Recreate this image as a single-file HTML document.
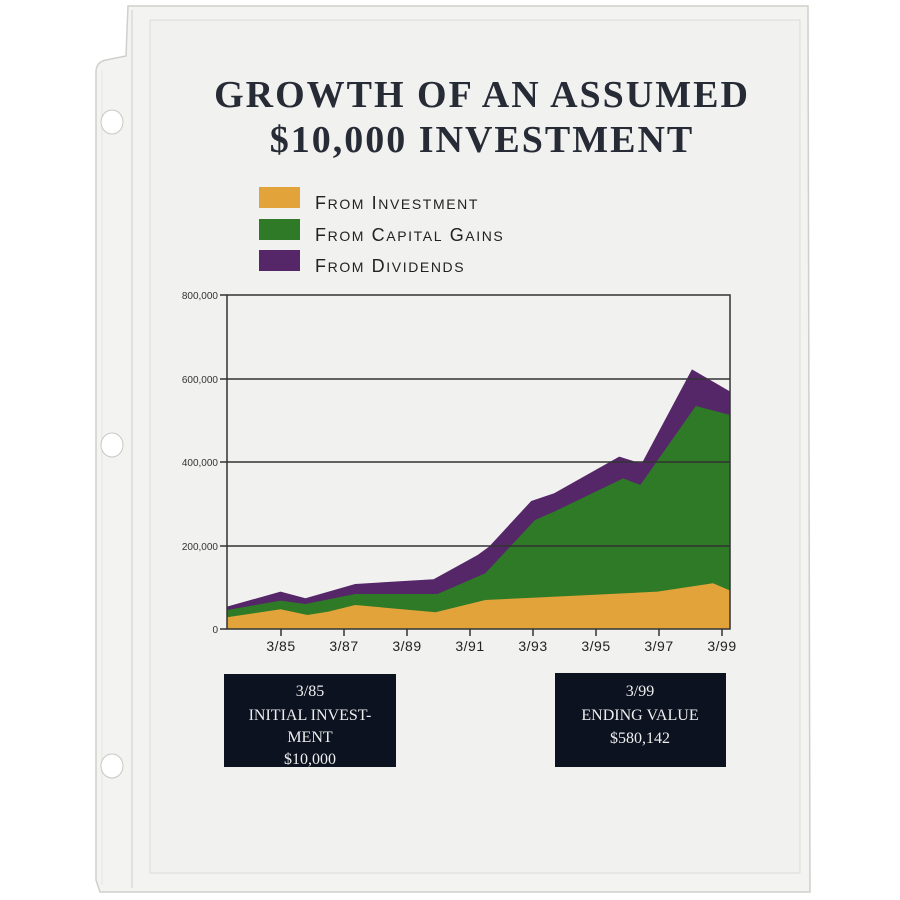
<!DOCTYPE html>
<html><head><meta charset="utf-8"><style>
html,body{margin:0;padding:0;background:#fff;}
body{width:900px;height:900px;position:relative;overflow:hidden;font-family:"Liberation Serif",serif;}
.abs{position:absolute;}
</style></head><body>
<svg class="abs" style="left:0;top:0" width="900" height="900" viewBox="0 0 900 900">
  <path d="M128 6 L808 6 L810 892 L100 892 L96 880 L96 72 Q96 62 106 60 L126 56 Z" fill="#f3f3f1" stroke="#cfcfcc" stroke-width="1.5"/>
  <line x1="132" y1="10" x2="132" y2="888" stroke="#e0e0dd" stroke-width="2"/>
  <line x1="102" y1="70" x2="102" y2="885" stroke="#e4e4e1" stroke-width="1"/>
  <rect x="150" y="20" width="650" height="853" fill="#f1f1ef" stroke="#dcdcd8" stroke-width="1"/>
  <ellipse cx="112" cy="122" rx="11" ry="12" fill="#fff" stroke="#c8c8c4"/>
  <ellipse cx="112" cy="445" rx="11" ry="12" fill="#fff" stroke="#c8c8c4"/>
  <ellipse cx="112" cy="766" rx="11" ry="12" fill="#fff" stroke="#c8c8c4"/>
  <text x="482" y="107" text-anchor="middle" font-family="Liberation Serif, serif" font-weight="bold" font-size="38" fill="#262b36" letter-spacing="2">GROWTH OF AN ASSUMED</text>
  <text x="482" y="152" text-anchor="middle" font-family="Liberation Serif, serif" font-weight="bold" font-size="38" fill="#262b36" letter-spacing="2">$10,000 INVESTMENT</text>
  <rect x="259" y="187" width="41" height="21" fill="#e3a33b"/>
  <rect x="259" y="219" width="41" height="21" fill="#2f7a27"/>
  <rect x="259" y="250" width="41" height="21" fill="#552668"/>
  <g font-family="Liberation Sans, sans-serif" fill="#222" font-size="18" letter-spacing="1.6">
    <text x="315" y="209">F<tspan font-size="14">ROM</tspan> I<tspan font-size="14">NVESTMENT</tspan></text>
    <text x="315" y="241">F<tspan font-size="14">ROM</tspan> C<tspan font-size="14">APITAL</tspan> G<tspan font-size="14">AINS</tspan></text>
    <text x="315" y="272">F<tspan font-size="14">ROM</tspan> D<tspan font-size="14">IVIDENDS</tspan></text>
  </g>
  <g transform="translate(160,280) scale(0.3827,0.3333)">
    <polygon fill="#552668" points="175,1048 175,980 315,935 380,955 510,912 715,898 830,825 860,800 970,663 1030,640 1200,530 1250,548 1260,548 1390,268 1490,335 1490,1048"/>
    <polygon fill="#2f7a27" points="175,1048 175,990 315,962 380,972 510,942 725,942 850,880 980,720 1030,695 1210,595 1255,615 1400,378 1490,405 1490,1048"/>
    <polygon fill="#e3a33b" points="175,1048 175,1012 315,988 385,1005 440,995 510,975 720,997 850,960 1000,952 1300,935 1445,910 1490,932 1490,1048"/>
  </g>
  <g stroke="#333" stroke-width="1.5" fill="none">
    <rect x="227" y="295" width="503" height="334"/>
    <line x1="227" y1="379" x2="730" y2="379"/>
    <line x1="227" y1="462" x2="730" y2="462"/>
    <line x1="227" y1="546" x2="730" y2="546"/>
    <line x1="220" y1="295" x2="227" y2="295"/>
    <line x1="220" y1="379" x2="227" y2="379"/>
    <line x1="220" y1="462" x2="227" y2="462"/>
    <line x1="220" y1="546" x2="227" y2="546"/>
    <line x1="220" y1="629" x2="227" y2="629"/>
    <line x1="281" y1="629" x2="281" y2="636"/>
    <line x1="344" y1="629" x2="344" y2="636"/>
    <line x1="407" y1="629" x2="407" y2="636"/>
    <line x1="470" y1="629" x2="470" y2="636"/>
    <line x1="533" y1="629" x2="533" y2="636"/>
    <line x1="596" y1="629" x2="596" y2="636"/>
    <line x1="659" y1="629" x2="659" y2="636"/>
    <line x1="722" y1="629" x2="722" y2="636"/>
  </g>
  <g font-family="Liberation Sans, sans-serif" font-size="10" fill="#333" text-anchor="end">
    <text x="218" y="299">800,000</text>
    <text x="218" y="383">600,000</text>
    <text x="218" y="466">400,000</text>
    <text x="218" y="550">200,000</text>
    <text x="218" y="633">0</text>
  </g>
  <g font-family="Liberation Sans, sans-serif" font-size="14" fill="#222" text-anchor="middle" letter-spacing="0.5">
    <text x="281" y="651">3/85</text><text x="344" y="651">3/87</text><text x="407" y="651">3/89</text>
    <text x="470" y="651">3/91</text><text x="533" y="651">3/93</text><text x="596" y="651">3/95</text>
    <text x="659" y="651">3/97</text><text x="722" y="651">3/99</text>
  </g>
  <rect x="224" y="674" width="172" height="93" fill="#0d1220"/>
  <rect x="555" y="673" width="171" height="94" fill="#0d1220"/>
  <g font-family="Liberation Serif, serif" font-size="16" fill="#eee" text-anchor="middle">
    <text x="310" y="696">3/85</text>
    <text x="310" y="720">INITIAL INVEST-</text>
    <text x="310" y="742">MENT</text>
    <text x="310" y="764">$10,000</text>
    <text x="640" y="696">3/99</text>
    <text x="640" y="720">ENDING VALUE</text>
    <text x="640" y="743">$580,142</text>
  </g>
</svg>
</body></html>
